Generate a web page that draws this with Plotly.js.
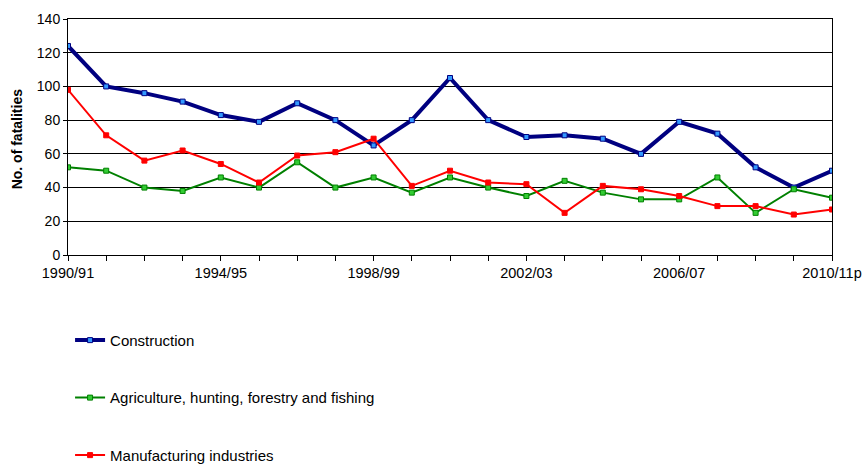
<!DOCTYPE html>
<html>
<head>
<meta charset="utf-8">
<script src="https://cdn.plot.ly/plotly-3.0.1.min.js"></script>
<style>
  html, body { margin: 0; padding: 0; background: #fff; }
  #chart { width: 865px; height: 464px; }
</style>
</head>
<body>
<div id="chart"></div>
<script>
// Financial years shown along the x axis
const years = [
  "1990/91", "1991/92", "1992/93", "1993/94", "1994/95", "1995/96", "1996/97",
  "1997/98", "1998/99", "1999/00", "2000/01", "2001/02", "2002/03", "2003/04",
  "2004/05", "2005/06", "2006/07", "2007/08", "2008/09", "2009/10", "2010/11p"
];

// Only every fourth year gets a printed label
const labelledYears = ["1990/91", "1994/95", "1998/99", "2002/03", "2006/07", "2010/11p"];

// Number of fatal injuries per year, by industry
const construction = [124, 100, 96, 91, 83, 79, 90, 80, 65, 80, 105, 80, 70, 71, 69, 60, 79, 72, 52, 40, 50];
const agriculture  = [52, 50, 40, 38, 46, 40, 55, 40, 46, 37, 46, 40, 35, 44, 37, 33, 33, 46, 25, 39, 34];
const manufacturing = [98, 71, 56, 62, 54, 43, 59, 61, 69, 41, 50, 43, 42, 25, 41, 39, 35, 29, 29, 24, 27];

const yTicks = [0, 20, 40, 60, 80, 100, 120, 140];
const yTitle = "No. of fatalities";

const font = "Liberation Sans, Arial, sans-serif";

const traces = [
  {
    name: "Construction",
    x: years, y: construction,
    type: "scatter", mode: "lines+markers",
    legendgroup: "c",
    line: { color: "#000080", width: 4 },
    marker: { symbol: "square", size: 5, color: "#3399FF", line: { color: "#000080", width: 1 } }
  },
  {
    name: "Agriculture, hunting, forestry and fishing",
    x: years, y: agriculture,
    type: "scatter", mode: "lines+markers",
    legendgroup: "a",
    line: { color: "#008000", width: 2 },
    marker: { symbol: "square", size: 5, color: "#33CC33", line: { color: "#008000", width: 1 } }
  },
  {
    name: "Manufacturing industries",
    x: years, y: manufacturing,
    type: "scatter", mode: "lines+markers",
    legendgroup: "m",
    line: { color: "#FF0000", width: 2 },
    marker: { symbol: "square", size: 5, color: "#FF0000", line: { color: "#FF0000", width: 1 } }
  }
];

const layout = {
  width: 865,
  height: 464,
  margin: { l: 68, r: 33, t: 19, b: 209, autoexpand: false },
  paper_bgcolor: "#fff",
  plot_bgcolor: "#fff",
  font: { family: font, size: 14, color: "#000" },
  showlegend: true,
  legend: {
    orientation: "v",
    xref: "container", yref: "container",
    x: 0.081, xanchor: "left",
    y: 0.302, yanchor: "top",
    tracegroupgap: 35,
    font: { family: font, size: 15, color: "#000" },
    bgcolor: "rgba(0,0,0,0)"
  },
  xaxis: {
    type: "category",
    range: [0, years.length - 1],
    tickmode: "array",
    tickvals: years,
    ticktext: years.map(y => labelledYears.includes(y) ? y : ""),
    ticks: "outside",
    ticklen: 5,
    tickcolor: "#000",
    tickfont: { family: font, size: 14.5, color: "#000" },
    showgrid: false,
    showline: true,
    linecolor: "#000",
    linewidth: 1,
    mirror: true,
    zeroline: false,
    fixedrange: true
  },
  yaxis: {
    range: [0, 140],
    tickmode: "array",
    tickvals: yTicks,
    ticktext: yTicks.map(String),
    ticks: "outside",
    ticklen: 4,
    tickcolor: "#000",
    tickfont: { family: font, size: 14, color: "#000" },
    showgrid: true,
    gridcolor: "#000",
    gridwidth: 1,
    showline: true,
    linecolor: "#000",
    linewidth: 1,
    mirror: true,
    zeroline: false,
    fixedrange: true
  },
  // Rotated y-axis title, placed in the left margin
  annotations: [
    {
      text: "<b>" + yTitle + "</b>",
      xref: "paper", yref: "paper",
      x: -51 / 764, y: 0.49,
      xanchor: "center", yanchor: "middle",
      textangle: -90,
      showarrow: false,
      font: { family: font, size: 14, color: "#000" }
    }
  ]
};

Plotly.newPlot("chart", traces, layout, { displayModeBar: false, staticPlot: true });
</script>
</body>
</html>
